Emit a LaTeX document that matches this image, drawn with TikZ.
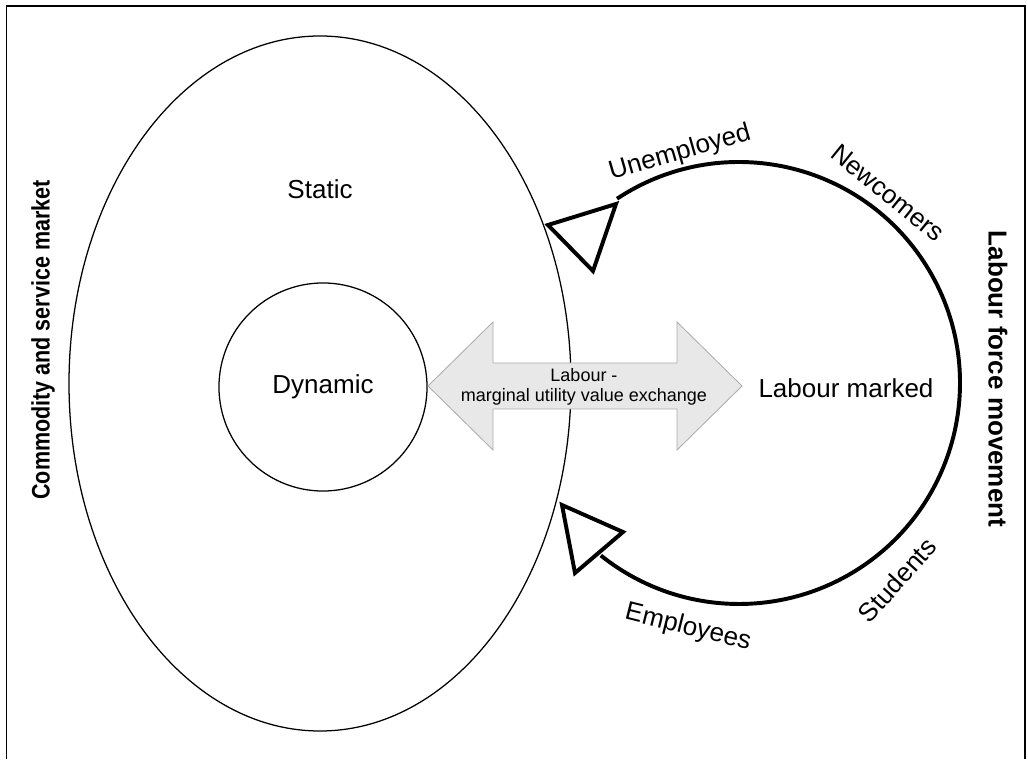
\documentclass[tikz,border=0pt]{standalone}
\usepackage{fontspec}
\setmainfont{Liberation Sans}

\tikzset{
  lbl/.style={font=\fontsize{18.5}{22}\selectfont},
  sidelbl/.style={font=\fontsize{18}{22}\selectfont\bfseries},
  flow/.style={line width=2.8pt, line join=miter},
  thin line/.style={line width=0.9pt},
}

\begin{document}
\begin{tikzpicture}[x=0.025cm,y=0.025cm]
\useasboundingbox (0,0) rectangle (1028,759);
\draw[line width=1.4pt] (6.5,0) -- (6.5,753) -- (1025,753) -- (1025,0);

\draw[thin line] (320,375.5) ellipse [x radius=251, y radius=347.5];
\node[circle, draw, thin line, minimum size=5.2cm, inner sep=0pt, lbl] (dynamic) at (323,372) {Dynamic};
\node[lbl] (static) at (320,570) {Static};

\draw[fill=gray!18, draw=gray!65, line width=0.6pt] (428,373) -- (493,437) -- (493,396) -- (677,396) -- (677,437) -- (742,373)
  -- (677,309) -- (677,350) -- (493,350) -- (493,309) -- cycle;
\node[font=\fontsize{12.8}{14.5}\selectfont, align=center] (exch) at (584,372) {Labour -\\marginal utility value exchange};

\coordinate (lmc) at (739,376);
\node[lbl] (labmkt) at (846,371) {Labour marked};
\draw[flow] (lmc) ++(123.5:221) arc [start angle=123.5, end angle=-128.7, radius=221];
\draw[flow] (548,534) -- (616,555) -- (593,488) -- cycle;
\draw[flow] (562,254) -- (623,227) -- (575,186) -- cycle;

\node[lbl, rotate=16] (unemp) at (680,606) {Unemployed};
\node[lbl, rotate=-39] (newc) at (888,566) {Newcomers};
\node[lbl, rotate=48] (stud) at (897,179) {Students};
\node[lbl, rotate=-14] (empl) at (688,131) {Employees};

\node[sidelbl, rotate=90, xscale=0.85] (cmkt) at (43,419) {Commodity and service market};
\node[sidelbl, font=\fontsize{18.5}{22}\selectfont\bfseries, rotate=-90] (lfm) at (998,380) {Labour force movement};
\end{tikzpicture}
\end{document}
